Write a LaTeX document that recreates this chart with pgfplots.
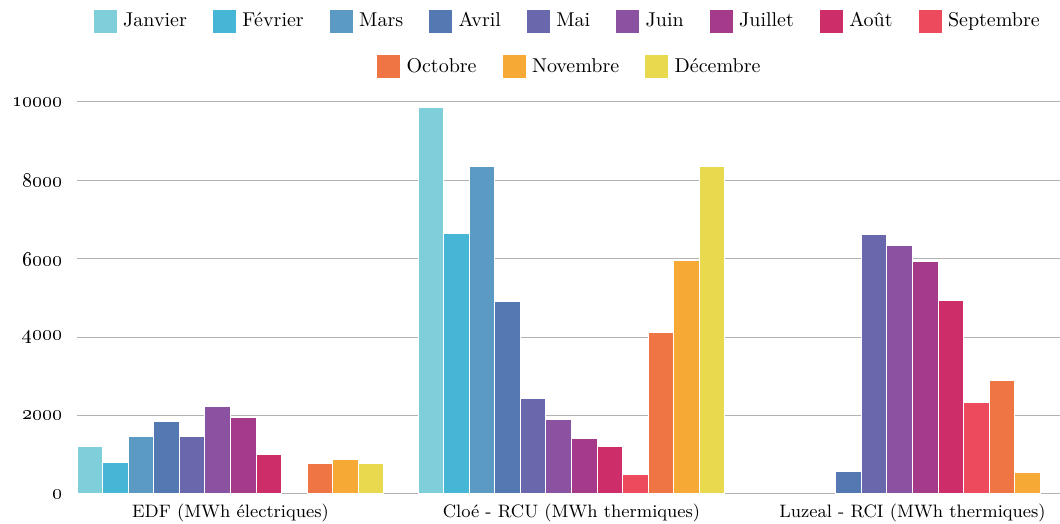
\documentclass[border=0pt]{standalone}
\usepackage{pgfplots}
\pgfplotsset{compat=1.18}
\definecolor{cJan}{HTML}{7ECFDA}
\definecolor{cFeb}{HTML}{45B6D6}
\definecolor{cMar}{HTML}{5B9AC3}
\definecolor{cApr}{HTML}{5479B2}
\definecolor{cMay}{HTML}{6A68AC}
\definecolor{cJun}{HTML}{8B52A2}
\definecolor{cJul}{HTML}{A5398A}
\definecolor{cAug}{HTML}{CD2E6A}
\definecolor{cSep}{HTML}{EE4A5E}
\definecolor{cOct}{HTML}{F07544}
\definecolor{cNov}{HTML}{F6A935}
\definecolor{cDec}{HTML}{E8D94E}
\pgfplotsset{
  mybase/.style={
    scale only axis, width=491.5pt, height=196pt,
    xmin=77, xmax=1060, ymin=0, ymax=10000,
    legend image code/.code={\path[##1,draw=none] (0pt,-5.75pt) rectangle (11.5pt,5.75pt);},
    legend style={draw=none, fill=none, anchor=center, font=\fontsize{10}{12}\selectfont,
      /tikz/every even column/.append style={column sep=10pt},
      nodes={inner sep=3.1pt}},
  },
  mybar/.style={fill=#1, draw=white, line width=0.5pt},
}
\begin{document}
\begin{tikzpicture}
\begin{axis}[ybar, bar width=25.58, bar shift=0pt, mybase, name=main,
  scaled y ticks=false,
  ytick={0,2000,4000,6000,8000,10000},
  yticklabels={\oldstylenums{0},\oldstylenums{2000},\oldstylenums{4000},\oldstylenums{6000},\oldstylenums{8000},\oldstylenums{10000}},
  xtick={230.5,571.5,912.5},
  xticklabels={EDF (MWh électriques),Cloé - RCU (MWh thermiques),Luzeal - RCI (MWh thermiques)},
  ymajorgrids, grid style={draw=black!30, line width=0.5pt},
  axis line style={draw=none}, major tick length=0pt,
  xticklabel style={font=\fontsize{9}{11}\selectfont, yshift=-1.3pt},
  yticklabel style={font=\fontsize{10.2}{12}\selectfont, xshift=-3.8pt},
  legend columns=9,
  legend style={at={(0.5015,1.2066)}},
]
\addplot[mybar=cJan] coordinates {(89.8,1220) (430.8,9850)};
\addplot[mybar=cFeb] coordinates {(115.4,810) (456.4,6640)};
\addplot[mybar=cMar] coordinates {(141.0,1470) (482.0,8350)};
\addplot[mybar=cApr] coordinates {(166.5,1850) (507.5,4900) (848.5,570)};
\addplot[mybar=cMay] coordinates {(192.1,1470) (533.1,2430) (874.1,6620)};
\addplot[mybar=cJun] coordinates {(217.7,2240) (558.7,1900) (899.7,6340)};
\addplot[mybar=cJul] coordinates {(243.3,1960) (584.3,1420) (925.3,5930)};
\addplot[mybar=cAug] coordinates {(268.9,1020) (609.9,1200) (950.9,4940)};
\addplot[mybar=cSep] coordinates {(635.4,510) (976.4,2340)};
\addplot[mybar=cOct] coordinates {(320.0,770) (661.0,4130) (1002.0,2900)};
\addplot[mybar=cNov] coordinates {(345.6,880) (686.6,5950) (1027.6,540)};
\addplot[mybar=cDec] coordinates {(371.2,780) (712.2,8350)};
\legend{Janvier,Février,Mars,Avril,Mai,Juin,Juillet,Août,Septembre}
\end{axis}
\begin{axis}[mybase, hide axis,
  legend columns=3,
  legend style={at={(0.5036,1.0893)}},
]
\addlegendimage{fill=cOct}
\addlegendentry{Octobre}
\addlegendimage{fill=cNov}
\addlegendentry{Novembre}
\addlegendimage{fill=cDec}
\addlegendentry{Décembre}
\end{axis}
\pgfresetboundingbox
\path[use as bounding box] ([xshift=-38.5pt,yshift=-15pt]main.south west) rectangle ([yshift=51pt]main.north east);
\end{tikzpicture}
\end{document}
